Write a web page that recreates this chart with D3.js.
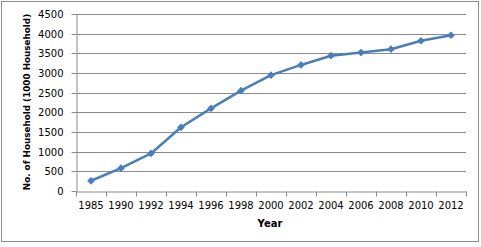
<!DOCTYPE html>
<html>
<head>
<meta charset="utf-8">
<script src="https://cdn.jsdelivr.net/npm/d3@7"></script>
<style>
  html, body { margin: 0; padding: 0; background: #fff; }
  svg { display: block; }
</style>
</head>
<body>
<div id="chart"></div>
<script>
const years = ['1985', '1990', '1992', '1994', '1996', '1998', '2000', '2002', '2004', '2006', '2008', '2010', '2012'];
const households = [260, 580, 955, 1620, 2100, 2550, 2945, 3205, 3440, 3520, 3605, 3820, 3960];
const yTicks = [0, 500, 1000, 1500, 2000, 2500, 3000, 3500, 4000, 4500];

const FONT = 'DejaVu Sans';
const W = 481, H = 247;
const margin = { top: 14, right: 15, bottom: 56, left: 76 };
const w = 466 - margin.left;
const h = 191 - margin.top;

const root = d3.select('#chart').append('svg')
    .attr('width', W)
    .attr('height', H)
    .attr('font-family', FONT);

// 外框
root.append('rect')
    .attr('x', 1.5).attr('y', 1.5)
    .attr('width', 477).attr('height', 240)
    .attr('fill', '#fff')
    .attr('stroke', '#8c8c8c')
    .attr('stroke-width', 1);

const svg = root.append('g')
    .attr('transform', `translate(${margin.left}, ${margin.top})`);

const xScale = d3.scaleBand().domain(years).range([0, w]);
const yScale = d3.scaleLinear().domain([0, 4500]).range([h, 0]);

// 网格线
svg.append('g')
    .selectAll('line')
    .data(yTicks.filter(d => d > 0))
    .join('line')
    .attr('x1', 0).attr('x2', w)
    .attr('y1', d => Math.round(yScale(d)) + 0.5)
    .attr('y2', d => Math.round(yScale(d)) + 0.5)
    .attr('stroke', '#8a8a8a')
    .attr('stroke-width', 1);

// y 轴
const yAxis = svg.append('g')
    .attr('transform', 'translate(0.5, 0)')
    .call(d3.axisLeft(yScale).tickValues(yTicks).tickFormat(d3.format('d'))
        .tickSize(5).tickPadding(8).tickSizeOuter(0));
yAxis.attr('font-family', FONT).attr('font-size', 10);
yAxis.selectAll('text').attr('fill', '#000');
yAxis.selectAll('line, path').attr('stroke', '#8a8a8a');
yAxis.selectAll('.tick').attr('transform', d => `translate(0, ${Math.round(yScale(d)) + 0.5})`);

// x 轴
const xAxis = svg.append('g')
    .attr('transform', `translate(0, ${h + 0.5})`)
    .call(d3.axisBottom(xScale).tickSize(0).tickPadding(10));
xAxis.attr('font-family', FONT).attr('font-size', 10);
xAxis.selectAll('text').attr('fill', '#000');
xAxis.select('path').attr('stroke', '#8a8a8a');
// 类别间刻度
xAxis.append('g')
    .selectAll('line')
    .data(d3.range(years.length + 1))
    .join('line')
    .attr('x1', i => Math.round(i * xScale.step()) + 0.5)
    .attr('x2', i => Math.round(i * xScale.step()) + 0.5)
    .attr('y1', 0).attr('y2', 5)
    .attr('stroke', '#8a8a8a');

// 折线
const line = d3.line()
    .x((d, i) => xScale(years[i]) + xScale.bandwidth() / 2)
    .y(d => yScale(d));

svg.append('path')
    .datum(households)
    .attr('d', line)
    .attr('fill', 'none')
    .attr('stroke', '#4a7ebb')
    .attr('stroke-width', 2.5)
    .attr('stroke-linejoin', 'round');

svg.append('g')
    .selectAll('path')
    .data(households)
    .join('path')
    .attr('d', d3.symbol().type(d3.symbolDiamond2).size(38))
    .attr('transform', (d, i) => `translate(${xScale(years[i]) + xScale.bandwidth() / 2}, ${yScale(d)})`)
    .attr('fill', '#4a7ebb');

// 坐标轴标题
root.append('text')
    .attr('transform', 'translate(29.5, 102) rotate(-90)')
    .attr('text-anchor', 'middle')
    .attr('font-size', 8.8)
    .attr('font-weight', 'bold')
    .text('No. of Household (1000 Household)');

root.append('text')
    .attr('x', 270)
    .attr('y', 227)
    .attr('text-anchor', 'middle')
    .attr('font-size', 10)
    .attr('font-weight', 'bold')
    .text('Year');
</script>
</body>
</html>
